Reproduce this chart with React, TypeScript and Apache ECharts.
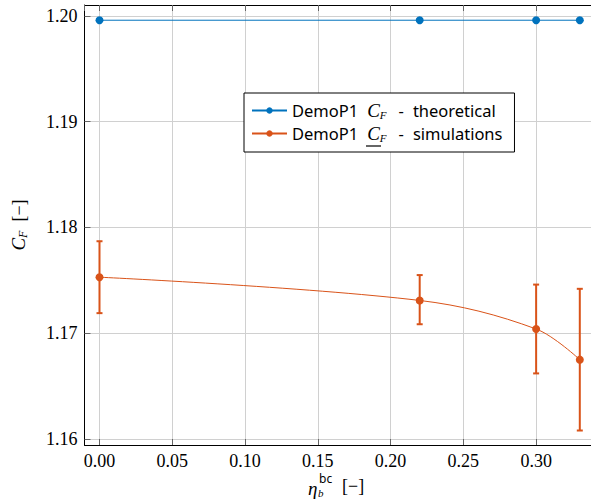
import React, { useEffect, useRef } from "react";
import * as echarts from "echarts";

const xValues = [0, 0.22, 0.3, 0.33];
const theoretical = [1.1996, 1.1996, 1.1996, 1.1996];
const simulations = [1.1753, 1.1731, 1.1704, 1.1675];
const simLow = [1.1719, 1.17085, 1.1662, 1.1608];
const simHigh = [1.1787, 1.1755, 1.1746, 1.1742];

const X_MIN = -0.0103;
const X_MAX = 0.3377;
const Y_MIN = 1.15943;
const Y_MAX = 1.20104;

const BLUE = "#0072BD";
const ORANGE = "#D95319";
const SERIF = '"Liberation Serif", "Times New Roman", serif';
const SANS = '"Noto Sans", sans-serif';

export default function App() {
  const ref = useRef<HTMLDivElement>(null);
  useEffect(() => {
    if (!ref.current) return;
    const chart = echarts.init(ref.current, undefined, { renderer: "svg" });
    const legendRich = {
      a: { fontFamily: SANS, fontSize: 16.5, color: "#000", lineHeight: 18 },
      t: { fontFamily: SANS, fontSize: 16.5, color: "#000", lineHeight: 18, padding: [0, 0, 0, 9] },
      d: { fontFamily: SANS, fontSize: 16.5, color: "#000", lineHeight: 18, padding: [0, 0, 0, 11] },
      c: { fontFamily: SERIF, fontStyle: "italic", fontSize: 19, color: "#000", lineHeight: 18, padding: [0, 0, 0, 9] },
      f: { fontFamily: SERIF, fontStyle: "italic", fontSize: 11, color: "#000", padding: [8, 1, 0, 0], lineHeight: 12 },
    };
    const gridTickStyle = { inside: true, length: 6, lineStyle: { color: "#666", width: 1 } };
    chart.setOption({
      animation: false,
      backgroundColor: "#fff",
      grid: { left: 83, top: 5, right: 0, bottom: 59 },
      xAxis: [
        {
          type: "value",
          min: X_MIN,
          max: X_MAX,
          minInterval: 0.05,
          maxInterval: 0.05,
          axisLine: { onZero: false, lineStyle: { color: "#000", width: 1 } },
          axisTick: gridTickStyle,
          splitLine: { show: true, lineStyle: { color: "#d0d0d0", width: 1 } },
          axisLabel: {
            showMinLabel: false,
            showMaxLabel: false,
            formatter: (v: number) => v.toFixed(2),
            fontFamily: SERIF,
            fontSize: 18,
            color: "#000",
            margin: 7,
          },
        },
        {
          type: "value",
          position: "top",
          min: X_MIN,
          max: X_MAX,
          minInterval: 0.05,
          maxInterval: 0.05,
          axisLine: { onZero: false, lineStyle: { color: "#000", width: 1 } },
          axisTick: gridTickStyle,
          splitLine: { show: false },
          axisLabel: { show: false },
        },
      ],
      yAxis: [
        {
          type: "value",
          min: Y_MIN,
          max: Y_MAX,
          minInterval: 0.01,
          maxInterval: 0.01,
          axisLine: { show: true, onZero: false, lineStyle: { color: "#000", width: 1 } },
          axisTick: { show: true, ...gridTickStyle },
          splitLine: { show: true, lineStyle: { color: "#d0d0d0", width: 1 } },
          axisLabel: {
            showMinLabel: false,
            showMaxLabel: false,
            formatter: (v: number) => v.toFixed(2),
            fontFamily: SERIF,
            fontSize: 18,
            color: "#000",
            margin: 7,
          },
          name: "{c|C}{f|F}{n|  [−]}",
          nameLocation: "middle",
          nameRotate: 90,
          nameGap: 56,
          nameTextStyle: {
            rich: {
              c: { fontFamily: SERIF, fontStyle: "italic", fontSize: 19, color: "#000", lineHeight: 20 },
              f: { fontFamily: SERIF, fontStyle: "italic", fontSize: 12, color: "#000", padding: [9, 0, 0, 0], lineHeight: 12 },
              n: { fontFamily: SERIF, fontSize: 18, color: "#000", lineHeight: 20 },
            },
          },
        },
      ],
      legend: {
        left: 244,
        top: 93,
        orient: "vertical",
        backgroundColor: "#fff",
        borderColor: "#000",
        borderWidth: 1,
        borderRadius: 0,
        padding: [8, 12, 9, 7],
        itemWidth: 35,
        itemHeight: 8,
        itemGap: 4,
        data: ["theoretical", "simulations"],
        formatter: (name: string) =>
          name === "theoretical"
            ? "{a|DemoP1}{c|C}{f|F}{d|-}{t|theoretical}"
            : "{a|DemoP1}{c|C}{f|F}{d|-}{t|simulations}",
        textStyle: { rich: legendRich },
      },
      graphic: [
        {
          type: "line",
          shape: { x1: 366, y1: 146, x2: 381, y2: 146 },
          style: { stroke: "#000", lineWidth: 1.2 },
          z: 100,
        },
        { type: "text", x: 308, y: 488, style: { text: "η", font: `italic 19px ${SERIF}`, fill: "#000", verticalAlign: "middle" } },
        { type: "text", x: 318, y: 493, style: { text: "b", font: `italic 11px ${SERIF}`, fill: "#000", verticalAlign: "middle" } },
        { type: "text", x: 319, y: 478, style: { text: "bc", font: `12px ${SANS}`, fill: "#000", verticalAlign: "middle" } },
        { type: "text", x: 342, y: 486, style: { text: "[−]", font: `18px ${SERIF}`, fill: "#000", verticalAlign: "middle" } },
      ],
      series: [
        {
          name: "errors",
          type: "custom",
          data: xValues.map((x, i) => [x, simLow[i], simHigh[i]]),
          encode: { x: 0, y: [1, 2] },
          z: 2,
          renderItem: (params: any, api: any) => {
            const x = api.value(0);
            const lo = api.coord([x, api.value(1)]);
            const hi = api.coord([x, api.value(2)]);
            const cap = 3;
            const style = { stroke: ORANGE, lineWidth: 2 };
            return {
              type: "group",
              children: [
                { type: "line", shape: { x1: lo[0], y1: lo[1], x2: hi[0], y2: hi[1] }, style },
                { type: "line", shape: { x1: lo[0] - cap, y1: lo[1], x2: lo[0] + cap, y2: lo[1] }, style },
                { type: "line", shape: { x1: hi[0] - cap, y1: hi[1], x2: hi[0] + cap, y2: hi[1] }, style },
              ],
            };
          },
        },
        {
          name: "theoretical",
          type: "line",
          data: xValues.map((x, i) => [x, theoretical[i]]),
          symbol: "circle",
          symbolSize: 8,
          showAllSymbol: true,
          itemStyle: { color: BLUE },
          lineStyle: { color: BLUE, width: 1 },
          z: 3,
        },
        {
          name: "simulations",
          type: "line",
          data: xValues.map((x, i) => [x, simulations[i]]),
          smooth: 0.35,
          symbol: "circle",
          symbolSize: 8,
          itemStyle: { color: ORANGE },
          lineStyle: { color: ORANGE, width: 1 },
          z: 3,
        },
      ],
    });
    return () => chart.dispose();
  }, []);
  return (
    <div
      ref={ref}
      style={{ position: "absolute", left: 0, top: 0, width: 591, height: 504 }}
    />
  );
}
